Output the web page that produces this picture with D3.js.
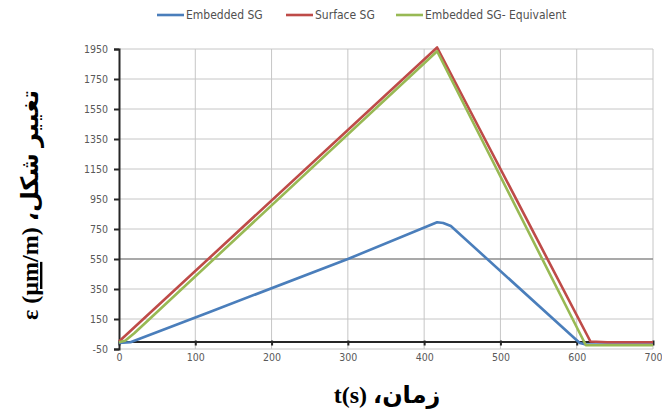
<!DOCTYPE html>
<html>
<head>
<meta charset="utf-8">
<script src="https://cdn.jsdelivr.net/npm/d3@7"></script>
<style>
  body { margin: 0; background: #fff; }
  svg { display: block; }
</style>
</head>
<body>
<script>
// series: time (s) and strain values
var embeddedT = [0, 15, 119, 300, 417, 425, 435, 604, 612, 650, 700];
var embeddedV = [-10, -5, 197, 550, 795, 790, 770, -10, -20, -20, -20];

var surfaceT = [0, 417, 618, 640, 700];
var surfaceV = [0, 1960, 0, -5, -5];

var equivT = [0, 8, 20, 417, 612, 650, 700];
var equivV = [-5, 5, 55, 1935, -25, -25, -25];

var seriesNames = ['Embedded SG', 'Surface SG', 'Embedded SG- Equivalent'];
var seriesColors = ['#4a7ebb', '#be4b48', '#98b954'];

var xTicks = [0, 100, 200, 300, 400, 500, 600, 700];
var yTicks = [-50, 150, 350, 550, 750, 950, 1150, 1350, 1550, 1750, 1950];

var svgWidth = 662, svgHeight = 415;
var margin = {top: 49, left: 119, bottom: 66, right: 9};
var width = svgWidth - margin.left - margin.right,
    height = svgHeight - margin.top - margin.bottom;

var svg = d3.select('body').append('svg')
  .attr('width', svgWidth)
  .attr('height', svgHeight);

var g = svg.append('g')
  .attr('transform', `translate(${margin.left},${margin.top})`);

var xScale = d3.scaleLinear().domain([0, 700]).range([0, width]);
var yScale = d3.scaleLinear().domain([-50, 1950]).range([height, 0]);

var tickFont = '"DejaVu Sans Condensed", "Liberation Sans Narrow", "Liberation Sans", sans-serif';
var fmt = d => String(d);

// grid
g.selectAll('.vgrid').data(xTicks.slice(1)).enter().append('line')
  .attr('x1', d => xScale(d)).attr('x2', d => xScale(d))
  .attr('y1', 0).attr('y2', height)
  .attr('stroke', '#c6c6c6').attr('stroke-width', 1);

g.selectAll('.hgrid').data(yTicks).enter().append('line')
  .attr('x1', 0).attr('x2', width)
  .attr('y1', d => yScale(d)).attr('y2', d => yScale(d))
  .attr('stroke', d => d == 550 ? '#8c8c8c' : '#c6c6c6')
  .attr('stroke-width', d => d == 550 ? 1.6 : 1);

// y axis
var yAxis = d3.axisLeft(yScale).tickValues(yTicks).tickFormat(fmt).tickSize(5).tickPadding(6);
var ya = g.append('g').call(yAxis);
ya.select('.domain').attr('stroke', '#262626').attr('stroke-width', 2);
ya.selectAll('.tick line').attr('stroke', '#262626').attr('stroke-width', 2);
ya.selectAll('.tick text').attr('fill', '#595959')
  .style('font-family', tickFont).style('font-size', '10.5px')
  .style('font-stretch', 'condensed');

// x axis crosses at 0
var xAxis = d3.axisBottom(xScale).tickValues(xTicks).tickFormat(fmt).tickSize(0).tickPadding(0);
var xa = g.append('g').attr('transform', `translate(0,${yScale(0)})`).call(xAxis);
xa.select('.domain').attr('stroke', '#262626').attr('stroke-width', 2);
xa.selectAll('.tick text').attr('fill', '#595959')
  .attr('y', height - yScale(0) + 5)
  .style('font-family', tickFont).style('font-size', '10.5px')
  .style('font-stretch', 'condensed');
xa.selectAll('.tick').append('line')
  .attr('y1', -1).attr('y2', 4)
  .attr('stroke', '#262626').attr('stroke-width', 2);

// lines
var line = d3.line().x(d => xScale(d[0])).y(d => yScale(d[1]));
var series = [
  d3.zip(embeddedT, embeddedV),
  d3.zip(surfaceT, surfaceV),
  d3.zip(equivT, equivV)
];
series.forEach(function(s, i) {
  g.append('path').datum(s)
    .attr('d', line)
    .attr('fill', 'none')
    .attr('stroke', seriesColors[i])
    .attr('stroke-width', 2.6)
    .attr('stroke-linejoin', 'round');
});

// legend
var legendX = [157, 286, 396];
var legend = svg.append('g');
seriesNames.forEach(function(name, i) {
  legend.append('line')
    .attr('x1', legendX[i]).attr('x2', legendX[i] + 27)
    .attr('y1', 15).attr('y2', 15)
    .attr('stroke', seriesColors[i]).attr('stroke-width', 2.6);
  legend.append('text')
    .attr('x', legendX[i] + 29).attr('y', 19)
    .attr('fill', '#505050')
    .style('font-family', tickFont).style('font-size', '12px')
    .style('font-stretch', 'condensed')
    .text(name);
});

// axis titles
svg.append('text')
  .attr('x', 387).attr('y', 403)
  .attr('text-anchor', 'middle')
  .attr('direction', 'rtl')
  .style('font-family', '"Liberation Serif", "DejaVu Sans", serif')
  .style('font-weight', 'bold').style('font-size', '24px')
  .text('زمان، t(s)');

var yt = svg.append('text')
  .attr('transform', 'translate(38,205) rotate(-90)')
  .attr('text-anchor', 'middle')
  .attr('direction', 'rtl')
  .style('font-family', '"Liberation Serif", "DejaVu Sans", serif')
  .style('font-weight', 'bold').style('font-size', '24px');
yt.append('tspan').text('تغییر شکل، ε (');
yt.append('tspan')
  .style('text-decoration', 'underline wavy red')
  .text('µm');
yt.append('tspan').text('/m)');
</script>
</body>
</html>
